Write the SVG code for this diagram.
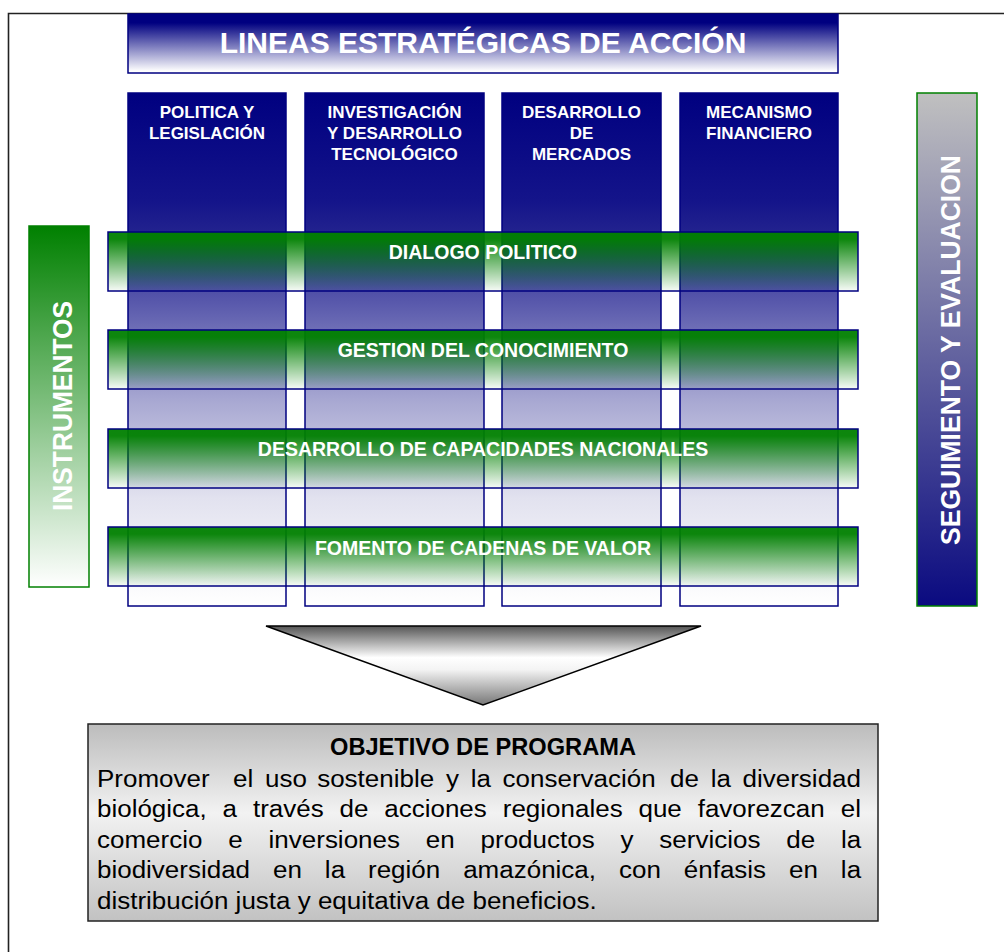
<svg xmlns="http://www.w3.org/2000/svg" width="1004" height="952" viewBox="0 0 1004 952">
<defs>
<linearGradient id="gTitle" x1="0" y1="0" x2="0" y2="1">
<stop offset="0" stop-color="#000080"/><stop offset="0.15" stop-color="#000080"/><stop offset="0.97" stop-color="#ffffff"/>
</linearGradient>
<linearGradient id="gCol" x1="0" y1="0" x2="0" y2="1">
<stop offset="0" stop-color="#000080"/><stop offset="0.21" stop-color="#14148a"/><stop offset="0.27" stop-color="#22228e"/><stop offset="0.4" stop-color="#5555aa"/><stop offset="0.6" stop-color="#a8a8d2"/><stop offset="0.79" stop-color="#e2e2ef"/><stop offset="1" stop-color="#ffffff"/>
</linearGradient>
<linearGradient id="gBand" x1="0" y1="0" x2="0" y2="1">
<stop offset="0" stop-color="#008000" stop-opacity="0.95"/><stop offset="0.12" stop-color="#008000" stop-opacity="0.95"/><stop offset="1" stop-color="#008000" stop-opacity="0.03"/>
</linearGradient>
<linearGradient id="gInst" x1="0" y1="0" x2="0" y2="1">
<stop offset="0" stop-color="#008000"/><stop offset="1" stop-color="#ffffff"/>
</linearGradient>
<linearGradient id="gSeg" x1="0" y1="0" x2="0" y2="1">
<stop offset="0" stop-color="#c0c0c0"/><stop offset="1" stop-color="#0a0a80"/>
</linearGradient>
<linearGradient id="gTri" x1="0" y1="0" x2="0" y2="1">
<stop offset="0" stop-color="#555555"/><stop offset="0.4" stop-color="#ffffff"/><stop offset="0.55" stop-color="#f4f4f4"/><stop offset="1" stop-color="#777777"/>
</linearGradient>
<linearGradient id="gObj" x1="0" y1="0" x2="0" y2="1">
<stop offset="0" stop-color="#bcbcbc"/><stop offset="0.45" stop-color="#f2f2f2"/><stop offset="1" stop-color="#c2c2c2"/>
</linearGradient>
<style>
.col{fill:url(#gCol);stroke:#000080;stroke-width:1.5}
.band{fill:url(#gBand);stroke:#000080;stroke-width:1.5}
.wb{font-family:"Liberation Sans",Arial,sans-serif;font-weight:bold;fill:#ffffff;text-anchor:middle}
.cl{font-size:17px}
.bl{font-size:19.5px}
.body{font-family:"Liberation Sans",Arial,sans-serif;font-size:24px;fill:#000000}
</style>
</defs>
<rect width="1004" height="952" fill="#ffffff"/>
<path d="M8.5,952 V13.5 H1004" fill="none" stroke="#222222" stroke-width="1.6"/>

<g id="title">
<rect x="128" y="14" width="710" height="59" fill="url(#gTitle)" stroke="#000080" stroke-width="1.5"/>
<text class="wb" x="483" y="53" font-size="30">LINEAS ESTRATÉGICAS DE ACCIÓN</text>
</g>

<g id="col-politica">
<rect class="col" x="128" y="93" width="158" height="513"/>
<text class="wb cl" x="207" y="118">POLITICA Y</text>
<text class="wb cl" x="207" y="139">LEGISLACIÓN</text>
</g>
<g id="col-investigacion">
<rect class="col" x="305" y="93" width="179" height="513"/>
<text class="wb cl" x="394.5" y="118">INVESTIGACIÓN</text>
<text class="wb cl" x="394.5" y="139">Y DESARROLLO</text>
<text class="wb cl" x="394.5" y="160">TECNOLÓGICO</text>
</g>
<g id="col-mercados">
<rect class="col" x="502" y="93" width="159" height="513"/>
<text class="wb cl" x="581.5" y="118">DESARROLLO</text>
<text class="wb cl" x="581.5" y="139">DE</text>
<text class="wb cl" x="581.5" y="160">MERCADOS</text>
</g>
<g id="col-financiero">
<rect class="col" x="680" y="93" width="158" height="513"/>
<text class="wb cl" x="759" y="118">MECANISMO</text>
<text class="wb cl" x="759" y="139">FINANCIERO</text>
</g>

<g id="band-dialogo">
<rect class="band" x="108" y="232" width="750" height="59"/>
<text class="wb bl" x="483" y="258.5">DIALOGO POLITICO</text>
</g>
<g id="band-gestion">
<rect class="band" x="108" y="330" width="750" height="59"/>
<text class="wb bl" x="483" y="357">GESTION DEL CONOCIMIENTO</text>
</g>
<g id="band-capacidades">
<rect class="band" x="108" y="429" width="750" height="59"/>
<text class="wb bl" x="483" y="456">DESARROLLO DE CAPACIDADES NACIONALES</text>
</g>
<g id="band-cadenas">
<rect class="band" x="108" y="527" width="750" height="59"/>
<text class="wb bl" x="483" y="555">FOMENTO DE CADENAS DE VALOR</text>
</g>

<g id="instrumentos">
<rect x="29" y="226" width="60" height="361" fill="url(#gInst)" stroke="#008000" stroke-width="1.5"/>
<text class="wb" font-size="27.5" textLength="210" lengthAdjust="spacingAndGlyphs" transform="translate(71.5,406) rotate(-90)">INSTRUMENTOS</text>
</g>

<g id="seguimiento">
<rect x="917" y="93" width="60" height="513" fill="url(#gSeg)" stroke="#008000" stroke-width="1.5"/>
<text class="wb" font-size="27" textLength="390" lengthAdjust="spacingAndGlyphs" transform="translate(960,350) rotate(-90)">SEGUIMIENTO Y EVALUACION</text>
</g>

<g id="connectors">
<polygon points="266,626 701,626 483,705" fill="url(#gTri)" stroke="#000000" stroke-width="1.5" stroke-linejoin="miter"/>
</g>

<g id="objetivo">
<rect x="88" y="724" width="790" height="197" fill="url(#gObj)" stroke="#222222" stroke-width="1.5"/>
<text x="483" y="755" font-family="'Liberation Sans',Arial,sans-serif" font-weight="bold" font-size="23" text-anchor="middle" textLength="306" lengthAdjust="spacingAndGlyphs" fill="#000000">OBJETIVO DE PROGRAMA</text>
<text class="body" y="787" transform="matrix(1.0833 0 0 1 0 0)"><tspan x="89.53">Promover</tspan><tspan x="215.16">el</tspan><tspan x="244.61">uso</tspan><tspan x="292.80">sostenible</tspan><tspan x="411.69">y</tspan><tspan x="434.49">la</tspan><tspan x="463.93">conservación</tspan><tspan x="618.55">de</tspan><tspan x="656.03">la</tspan><tspan x="685.47">diversidad</tspan></text>
<text class="body" y="817.5" transform="matrix(1.0833 0 0 1 0 0)"><tspan x="89.53">biológica,</tspan><tspan x="205.47">a</tspan><tspan x="233.53">través</tspan><tspan x="313.47">de</tspan><tspan x="354.73">acciones</tspan><tspan x="464.12">regionales</tspan><tspan x="589.38">que</tspan><tspan x="644.03">favorezcan</tspan><tspan x="776.12">el</tspan></text>
<text class="body" y="848" transform="matrix(1.0833 0 0 1 0 0)"><tspan x="89.53">comercio</tspan><tspan x="210.73">e</tspan><tspan x="247.93">inversiones</tspan><tspan x="393.13">en</tspan><tspan x="443.63">productos</tspan><tspan x="572.86">y</tspan><tspan x="608.67">servicios</tspan><tspan x="725.81">de</tspan><tspan x="776.30">la</tspan></text>
<text class="body" y="878.5" transform="matrix(1.0833 0 0 1 0 0)"><tspan x="89.53">biodiversidad</tspan><tspan x="252.09">en</tspan><tspan x="299.90">la</tspan><tspan x="339.69">región</tspan><tspan x="427.56">amazónica,</tspan><tspan x="571.38">con</tspan><tspan x="631.20">énfasis</tspan><tspan x="728.40">en</tspan><tspan x="776.21">la</tspan></text>
<text class="body" x="89.53" y="909" transform="matrix(1.0833 0 0 1 0 0)">distribución justa y equitativa de beneficios.</text>
</g>
</svg>
